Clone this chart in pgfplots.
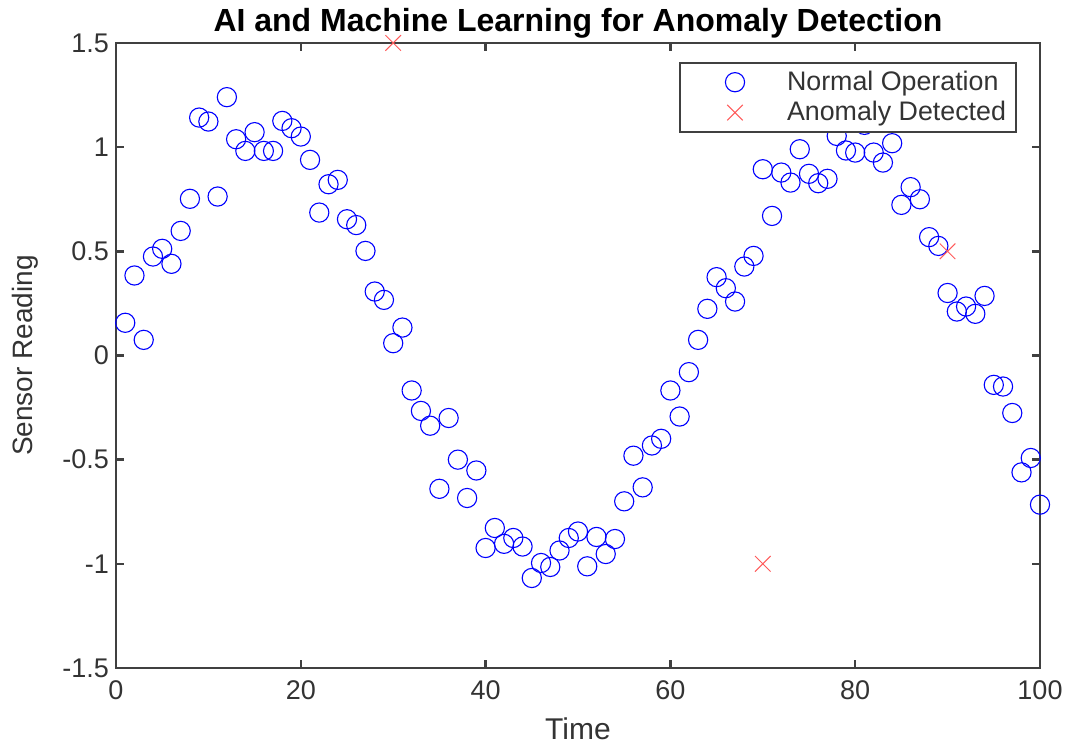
\documentclass[border=0pt]{standalone}
\usepackage{fontspec}
\setmainfont{Liberation Sans}
\usepackage{pgfplots}
\pgfplotsset{compat=1.18}
\definecolor{axgray}{RGB}{64,64,64}
\definecolor{mblue}{RGB}{0,0,255}
\definecolor{mred}{RGB}{255,90,90}
\pgfplotsset{myleg/.style={legend image code/.code={\path (0pt,0pt) (47.5pt,0pt); \draw[##1, mark repeat=2, mark phase=2] plot coordinates {(0pt,0pt) (24pt,0pt) (48pt,0pt)};}}}
\begin{document}
\begin{tikzpicture}
\begin{axis}[
  scale only axis, width=462pt, height=312.5pt,
  xmin=0, xmax=100, ymin=-1.5, ymax=1.5,
  xtick={0,20,40,60,80,100}, xticklabels={0,20,40,60,80,100},
  ytick={-1.5,-1,-0.5,0,0.5,1,1.5}, yticklabels={-1.5,-1,-0.5,0,0.5,1,1.5},
  tick align=inside, major tick length=4pt,
  axis line style={draw=axgray, line width=1.2pt},
  every tick/.style={axgray, line width=1.2pt},
  ticklabel style={font=\fontsize{13.5}{16}\selectfont, text=black!80},
  xticklabel style={yshift=-3pt},
  title={AI and Machine Learning for Anomaly Detection},
  title style={font=\fontsize{16}{18}\selectfont\bfseries, at={(axis description cs:0.5,1.037)}, anchor=center, yshift=-7.5pt},
  xlabel={Time},
  xlabel style={font=\fontsize{15}{17}\selectfont, text=black!80, at={(axis description cs:0.5,-0.098)}, anchor=center},
  ylabel={Sensor Reading},
  ylabel style={font=\fontsize{14}{16}\selectfont, text=black!80, at={(axis description cs:-0.0985,0.5)}, anchor=center},
  legend style={at={(1,1)}, xshift=-11.5pt, yshift=-9.5pt, anchor=north east, draw=axgray, line width=1pt,
    font=\fontsize{13.4}{15}\selectfont, text=black!80},
  legend cell align=left,
]
\addplot[only marks, mark=o, mark size=4.8pt, mblue, mark options={line width=0.55pt}, myleg]
  table[row sep=\\] {
x y\\
1 0.157\\ 2 0.384\\ 3 0.075\\ 4 0.475\\ 5 0.512\\ 6 0.44\\ 7 0.598\\ 8 0.752\\ 9 1.142\\ 10 1.123\\
11 0.763\\ 12 1.24\\ 13 1.038\\ 14 0.982\\ 15 1.072\\ 16 0.982\\ 17 0.982\\ 18 1.126\\ 19 1.091\\ 20 1.051\\
21 0.939\\ 22 0.686\\ 23 0.822\\ 24 0.843\\ 25 0.654\\ 26 0.626\\ 27 0.502\\ 28 0.307\\ 29 0.267\\ 30 0.059\\
31 0.134\\ 32 -0.168\\ 33 -0.266\\ 34 -0.337\\ 35 -0.64\\ 36 -0.30\\ 37 -0.50\\ 38 -0.684\\ 39 -0.552\\ 40 -0.924\\
41 -0.828\\ 42 -0.904\\ 43 -0.876\\ 44 -0.917\\ 45 -1.068\\ 46 -0.996\\ 47 -1.015\\ 48 -0.936\\ 49 -0.876\\ 50 -0.845\\
51 -1.012\\ 52 -0.871\\ 53 -0.953\\ 54 -0.881\\ 55 -0.70\\ 56 -0.481\\ 57 -0.633\\ 58 -0.432\\ 59 -0.40\\ 60 -0.168\\
61 -0.293\\ 62 -0.08\\ 63 0.075\\ 64 0.224\\ 65 0.376\\ 66 0.323\\ 67 0.259\\ 68 0.427\\ 69 0.478\\ 70 0.894\\
71 0.670\\ 72 0.878\\ 73 0.830\\ 74 0.990\\ 75 0.872\\ 76 0.827\\ 77 0.848\\ 78 1.054\\ 79 0.984\\ 80 0.974\\
81 1.107\\ 82 0.974\\ 83 0.926\\ 84 1.019\\ 85 0.723\\ 86 0.808\\ 87 0.750\\ 88 0.568\\ 89 0.526\\ 90 0.30\\
91 0.211\\ 92 0.235\\ 93 0.20\\ 94 0.286\\ 95 -0.141\\ 96 -0.149\\ 97 -0.276\\ 98 -0.561\\ 99 -0.492\\ 100 -0.716\\
};
\addlegendentry{Normal Operation}
\addplot[only marks, mark=x, mark size=5.5pt, mred, mark options={line width=0.5pt}, myleg]
  table[row sep=\\] {
x y\\
30 1.5\\ 70 -1.0\\ 90 0.5\\
};
\addlegendentry{Anomaly Detected}
\end{axis}
\pgfresetboundingbox
\path[use as bounding box] ([shift={(-58pt,-39.5pt)}]current axis.south west) rectangle ([shift={(16pt,21.5pt)}]current axis.north east);
\end{tikzpicture}
\end{document}
